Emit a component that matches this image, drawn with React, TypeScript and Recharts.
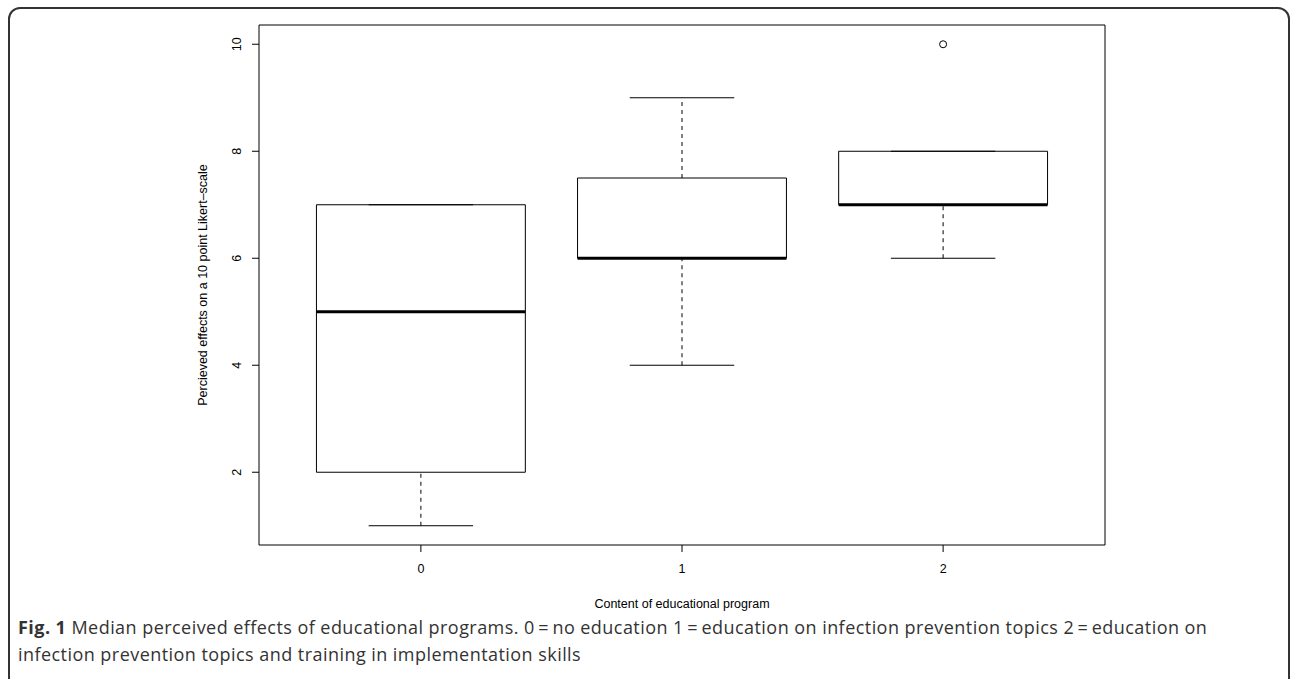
import {
  ComposedChart,
  ReferenceArea,
  ReferenceLine,
  Scatter,
  XAxis,
  YAxis,
} from "recharts";

const groups = ["0", "1", "2"];
const positions = [1, 2, 3];
const whiskerLow = [1, 4, 6];
const q1 = [2, 6, 7];
const medians = [5, 6, 7];
const q3 = [7, 7.5, 8];
const whiskerHigh = [7, 9, 8];
const outlierPos = [3];
const outlierValue = [10];
const yTicks = [2, 4, 6, 8, 10];

const xTitle = "Content of educational program";
const yTitle = "Percieved effects on a 10 point Likert\u2013scale";

// R style axis extension (4% each side)
const xRange = [0.5, positions.length + 0.5];
const xPad = (xRange[1] - xRange[0]) * 0.04;
const xDomain = [xRange[0] - xPad, xRange[1] + xPad];
const allY = [...whiskerLow, ...whiskerHigh, ...outlierValue];
const yMin = Math.min(...allY);
const yMax = Math.max(...allY);
const yPad = (yMax - yMin) * 0.04;
const yDomain = [yMin - yPad, yMax + yPad];

const BOX_HALF = 0.4;
const STAPLE_HALF = 0.2;
const FONT = "'Liberation Sans', Arial, Helvetica, sans-serif";

const outliers = outlierPos.map((p, i) => ({ pos: p, value: outlierValue[i] }));

function YTick({ x, y, payload }: any) {
  return (
    <text
      x={x}
      y={y}
      transform={`rotate(-90 ${x} ${y})`}
      textAnchor="middle"
      fontSize={12.5}
      fontFamily={FONT}
      fill="#000"
    >
      {payload.value}
    </text>
  );
}

function XTick({ x, y, payload }: any) {
  return (
    <text
      x={x}
      y={y}
      textAnchor="middle"
      fontSize={12.5}
      fontFamily={FONT}
      fill="#000"
    >
      {groups[payload.value - 1]}
    </text>
  );
}

function XTitle({ viewBox }: any) {
  return (
    <text
      x={viewBox.x + viewBox.width / 2}
      y={viewBox.y + 63}
      textAnchor="middle"
      fontSize={12.5}
      fontFamily={FONT}
      fill="#000"
    >
      {xTitle}
    </text>
  );
}

function YTitle({ viewBox }: any) {
  const cx = 203;
  const cy = viewBox.y + viewBox.height / 2;
  return (
    <text
      x={cx}
      y={cy}
      transform={`rotate(-90 ${cx} ${cy})`}
      textAnchor="middle"
      dominantBaseline="central"
      fontSize={12.5}
      fontFamily={FONT}
      fill="#000"
    >
      {yTitle}
    </text>
  );
}

export default function App() {
  return (
    <div
      style={{
        position: "relative",
        width: 1290,
        height: 679,
        overflow: "hidden",
        background: "#fff",
      }}
    >
      <style>{`body{margin:0}`}</style>
      <div
        style={{
          position: "absolute",
          left: 8,
          top: 7,
          width: 1278,
          height: 690,
          border: "2px solid #333",
          borderRadius: 12,
        }}
      />
      <div style={{ position: "absolute", left: 0, top: 0 }}>
        <ComposedChart
          width={1290}
          height={620}
          margin={{ top: 25, right: 185, bottom: 35, left: 199 }}
        >
          <XAxis
            type="number"
            dataKey="pos"
            domain={xDomain}
            ticks={positions}
            axisLine={false}
            tickLine={{ stroke: "#000" }}
            tickSize={7}
            tickMargin={21}
            tick={<XTick />}
            height={40}
            allowDataOverflow
            label={<XTitle />}
          />
          <YAxis
            type="number"
            dataKey="value"
            domain={yDomain}
            ticks={yTicks}
            axisLine={false}
            tickLine={{ stroke: "#000" }}
            tickSize={7}
            tickMargin={11}
            tick={<YTick />}
            width={60}
            allowDataOverflow
            label={<YTitle />}
          />
          <ReferenceArea
            x1={xDomain[0]}
            x2={xDomain[1]}
            y1={yDomain[0]}
            y2={yDomain[1]}
            fill="#fff"
            fillOpacity={0}
            stroke="#000"
            strokeWidth={1}
            ifOverflow="visible"
          />
          {positions.map((p, i) => (
            <ReferenceLine
              key={`wl${i}`}
              segment={[
                { x: p, y: whiskerLow[i] },
                { x: p, y: q1[i] },
              ]}
              stroke="#000"
              strokeDasharray="4 4"
              ifOverflow="visible"
            />
          ))}
          {positions.map((p, i) => (
            <ReferenceLine
              key={`wh${i}`}
              segment={[
                { x: p, y: q3[i] },
                { x: p, y: whiskerHigh[i] },
              ]}
              stroke="#000"
              strokeDasharray="4 4"
              ifOverflow="visible"
            />
          ))}
          {positions.map((p, i) => (
            <ReferenceLine
              key={`sl${i}`}
              segment={[
                { x: p - STAPLE_HALF, y: whiskerLow[i] },
                { x: p + STAPLE_HALF, y: whiskerLow[i] },
              ]}
              stroke="#000"
              ifOverflow="visible"
            />
          ))}
          {positions.map((p, i) => (
            <ReferenceLine
              key={`sh${i}`}
              segment={[
                { x: p - STAPLE_HALF, y: whiskerHigh[i] },
                { x: p + STAPLE_HALF, y: whiskerHigh[i] },
              ]}
              stroke="#000"
              ifOverflow="visible"
            />
          ))}
          {positions.map((p, i) => (
            <ReferenceArea
              key={`box${i}`}
              x1={p - BOX_HALF}
              x2={p + BOX_HALF}
              y1={q1[i]}
              y2={q3[i]}
              fill="#fff"
              fillOpacity={1}
              stroke="#000"
              strokeWidth={1}
              ifOverflow="visible"
            />
          ))}
          {positions.map((p, i) => (
            <ReferenceLine
              key={`md${i}`}
              segment={[
                { x: p - BOX_HALF, y: medians[i] },
                { x: p + BOX_HALF, y: medians[i] },
              ]}
              stroke="#000"
              strokeWidth={3}
              ifOverflow="visible"
            />
          ))}
          <Scatter
            data={outliers}
            dataKey="value"
            isAnimationActive={false}
            shape={(props: any) => (
              <circle
                cx={props.cx}
                cy={props.cy}
                r={3.5}
                fill="none"
                stroke="#000"
                strokeWidth={1}
              />
            )}
          />
        </ComposedChart>
      </div>
      <div
        style={{
          position: "absolute",
          left: 18,
          top: 614,
          width: 1260,
          whiteSpace: "nowrap",
          fontFamily: "'Open Sans', 'Noto Sans', sans-serif",
          fontSize: 18,
          letterSpacing: 0.45,
          lineHeight: "27px",
          color: "#333",
        }}
      >
        <span style={{ fontWeight: 700 }}>Fig. 1</span> Median perceived
        effects of educational programs. 0&#8201;=&#8201;no education
        1&#8201;=&#8201;education on infection prevention topics
        2&#8201;=&#8201;education on
        <br />
        infection prevention topics and training in implementation skills
      </div>
    </div>
  );
}
